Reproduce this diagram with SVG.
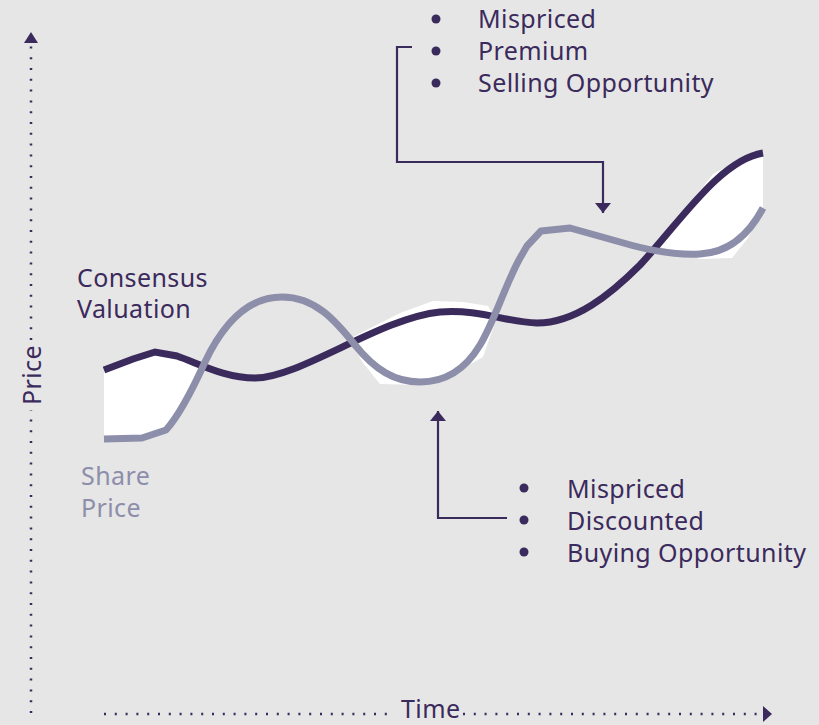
<svg xmlns="http://www.w3.org/2000/svg" width="819" height="725" viewBox="0 0 819 725">
<style>
.t{font-family:"Noto Sans","Liberation Sans",sans-serif;font-size:25px;fill:#3b2a5c;letter-spacing:0.4px}
.sp{fill:#8c8eaa}
.axis{stroke:#3b2a5c;stroke-width:2.5;stroke-dasharray:2 8.8;fill:none}
.conn{stroke:#3b2a5c;stroke-width:2.2;fill:none}
.val{stroke:#3b2a5c;stroke-width:7;fill:none}
.shr{stroke:#8c8eaa;stroke-width:7;fill:none;stroke-linejoin:round}
.gap{fill:#ffffff}
</style>
<defs>
<marker id="ah" markerWidth="11" markerHeight="16" refX="10" refY="8" orient="auto" markerUnits="userSpaceOnUse" viewBox="0 0 11 16">
<path d="M0,0 L10,8 L0,16 Z" fill="#3b2a5c"/>
</marker>
</defs>
<rect width="819" height="725" fill="#e6e6e6"/>

<g id="axes">
<line class="axis" x1="31" y1="340" x2="31" y2="44"/>
<line class="axis" x1="31" y1="713" x2="31" y2="410"/>
<path d="M31,32 L38,43 L24,43 Z" fill="#3b2a5c"/>
<text class="t" transform="translate(41,405) rotate(-90)" font-size="22">Price</text>
<line class="axis" x1="104" y1="714" x2="395" y2="714"/>
<line class="axis" x1="463" y1="714" x2="760" y2="714"/>
<path d="M763,706 L772,714 L763,722 Z" fill="#3b2a5c"/>
<text class="t" x="401" y="718" font-size="22">Time</text>
</g>

<g id="gaps">
<path class="gap" d="M104,370 L133,359 L155,352 L177,356 L199,366 L186,400 L175,420 L166,430 L142,438 L104,439 Z"/>
<path class="gap" d="M349,339 L363,363 L380,384 L420,385 L455,373 L483,357 L496,320 L488,306 L463,302 L433,301 L400,313 Z"/>
<path class="gap" d="M660,247 L687,207 L713,174 L735,162 L763,153 L763,208 L748,238 L732,258 L700,259 Z"/>
</g>

<g id="consensus-valuation">
<path class="val" d="M104,370 L133,359 L155,352 L177,356 C200,364 225,378 255,378 C300,378 380,318 440,312 C480,309 505,322 537,323 C575,323 610,295 640,265 C680,222 720,160 763,153"/>
<text class="t" x="77" y="287">Consensus</text>
<text class="t" x="77" y="318">Valuation</text>
</g>

<g id="share-price">
<path class="shr" d="M104,439 L142,438 L166,430 C175,420 190,395 205,362 C225,320 250,297 282,297 C315,297 335,320 355,345 C375,370 395,382 420,382 C445,382 465,370 480,345 C495,320 505,285 520,258 L527,246 L541,231 L570,228 L620,242 C650,251 680,255 700,254 C722,253 745,242 763,208"/>
<text class="t sp" x="81" y="485">Share</text>
<text class="t sp" x="81" y="517">Price</text>
</g>

<g id="premium-note">
<circle cx="436" cy="19" r="4.5" fill="#3b2a5c"/>
<circle cx="436" cy="51" r="4.5" fill="#3b2a5c"/>
<circle cx="436" cy="83" r="4.5" fill="#3b2a5c"/>
<text class="t" x="478" y="28">Mispriced</text>
<text class="t" x="478" y="60">Premium</text>
<text class="t" x="478" y="92">Selling Opportunity</text>
</g>

<g id="discount-note">
<circle cx="524" cy="488" r="4.5" fill="#3b2a5c"/>
<circle cx="524" cy="520" r="4.5" fill="#3b2a5c"/>
<circle cx="524" cy="552" r="4.5" fill="#3b2a5c"/>
<text class="t" x="567" y="498">Mispriced</text>
<text class="t" x="567" y="530">Discounted</text>
<text class="t" x="567" y="562">Buying Opportunity</text>
</g>

<g id="connectors">
<path class="conn" d="M412,47 L397,47 L397,162 L603,162 L603,213" marker-end="url(#ah)"/>
<path class="conn" d="M507,518 L438,518 L438,411" marker-end="url(#ah)"/>
</g>
</svg>
